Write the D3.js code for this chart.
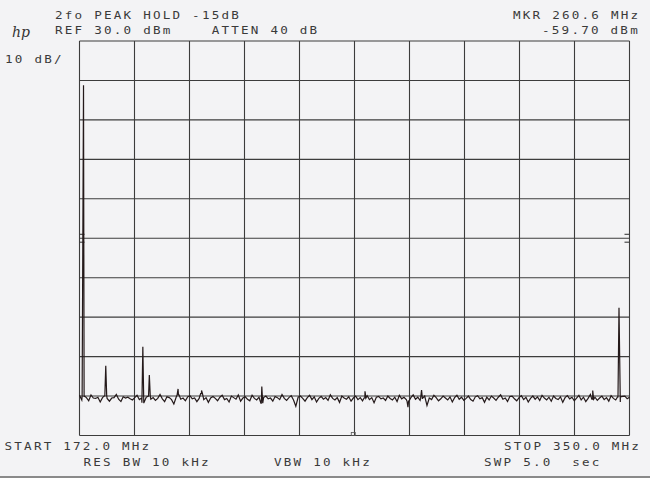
<!DOCTYPE html>
<html>
<head>
<meta charset="utf-8">
<script src="https://cdn.jsdelivr.net/npm/d3@7"></script>
<style>
  body { margin: 0; background: #f3f3f5; }
  svg { display: block; }
  .lbl { font-family: "DejaVu Sans Mono", monospace; font-size: 10.5px; letter-spacing: 1.85px; fill: #3a3a3a; white-space: pre; }
</style>
</head>
<body>
<svg width="650" height="478"></svg>
<script>
// Sweep settings
var freqStart = 172.0, freqStop = 350.0;
var refLevel = 30.0, dbPerDiv = 10, divisions = 10;

// Noise floor samples across the sweep (dBm)
var noiseFloor = [
  -59.8, -61.0, -60.1, -60.4, -61.2, -59.7, -60.5, -60.6, -60.3, -61.5, -60.4, -59.9,
  -60.6, -61.3, -60.5, -60.4, -59.6, -60.8, -61.4, -60.2, -60.5, -60.3, -60.7, -61.0,
  -60.4, -59.8, -60.9, -60.5, -61.7, -60.3, -60.0, -60.8, -60.4, -61.1, -60.6, -59.6,
  -60.7, -61.4, -60.2, -60.4, -60.9, -62.0, -60.3, -59.7, -60.8, -60.5, -61.2, -60.2,
  -59.9, -60.7, -60.5, -61.4, -60.6, -59.4, -60.9, -60.4, -61.6, -60.5, -60.1, -60.6,
  -61.2, -60.3, -59.8, -60.9, -60.6, -61.5, -60.0, -60.4, -60.8, -59.7, -61.3, -60.5,
  -60.2, -60.8, -61.2, -59.8, -60.6, -61.0, -60.3, -61.8, -60.4, -60.0, -60.7, -60.5,
  -61.3, -60.1, -60.4, -60.9, -59.6, -60.6, -61.1, -60.4, -59.9, -61.0, -62.6, -60.3,
  -60.0, -60.6, -61.3, -60.4, -59.8, -60.9, -60.2, -61.5, -60.6, -60.1, -60.8, -60.4,
  -61.1, -59.7, -60.6, -61.0, -60.4, -61.6, -60.0, -60.5, -60.8, -60.2, -61.3, -60.5,
  -60.0, -60.9, -60.4, -61.2, -60.5, -59.9, -60.9, -60.4, -61.7, -60.3, -60.1, -60.7,
  -60.5, -61.1, -60.0, -60.6, -61.0, -60.3, -61.4, -59.8, -60.7, -60.3, -60.9, -61.3,
  -60.4, -59.7, -60.8, -60.3, -61.1, -60.6, -60.0, -62.4, -60.5, -60.9, -59.8, -60.4,
  -61.2, -60.7, -60.0, -60.5, -61.0, -60.2, -61.5, -60.4, -59.8, -60.8, -60.3, -61.1,
  -60.6, -60.0, -60.9, -61.3, -60.2, -59.9, -60.7, -60.4, -61.6, -60.3, -61.0, -60.0,
  -60.5, -61.1, -60.3, -59.7, -60.8, -60.5, -61.4, -60.1, -60.0, -60.7, -61.2, -60.4,
  -59.9, -60.9, -60.3, -61.5, -60.6, -60.0, -60.8, -60.2, -61.1, -59.8, -60.5, -61.0,
  -60.3, -61.3, -60.0, -60.6, -60.9, -60.2, -61.6, -60.4, -59.9, -60.7, -60.3, -61.2,
  -60.5, -59.8, -61.0, -60.3, -61.4, -60.6, -59.6, -60.8, -60.3, -61.1, -60.5, -60.0,
  -60.9, -60.4, -61.3, -59.9, -60.6, -61.0, -60.2, -61.5, -60.1, -60.0, -60.7, -60.3
];

// Discrete responses (MHz, dBm): fundamental, spurs, 2nd harmonic
var spikeFreqs  = [173.3, 180.5, 192.5, 194.6, 203.9, 211.5, 231.0, 264.4, 278.3, 282.7, 338.1, 346.6];
var spikeLevels = [18.8, -52.3, -47.5, -54.7, -58.2, -58.6, -57.6, -58.8, -62.8, -58.5, -58.6, -37.6];

// Annotation text
var topLeftLines = ["2fo PEAK HOLD -15dB", "REF 30.0 dBm    ATTEN 40 dB"];
var markerLines = ["MKR 260.6 MHz", "-59.70 dBm"];
var scaleLabel = "10 dB/";
var bottomLabels = ["START 172.0 MHz", "STOP 350.0 MHz", "RES BW 10 kHz", "VBW 10 kHz", "SWP 5.0  sec"];
var markerFreq = 260.6;

var svg = d3.select("svg");

// Scales
var x = d3.scaleLinear().domain([freqStart, freqStop]).range([79.5, 629.5]);
var y = d3.scaleLinear().domain([refLevel - dbPerDiv * divisions, refLevel]).range([435.5, 41]);

// paper strip at bottom of scan
svg.append("rect").attr("x", 0).attr("y", 476).attr("width", 650).attr("height", 2).attr("fill", "#8a8a8a");

// Graticule
var fStep = (freqStop - freqStart) / divisions;
var gridF = d3.range(divisions + 1).map(function (i) { return freqStart + i * fStep; });
var gridDb = d3.range(divisions + 1).map(function (i) { return refLevel - i * dbPerDiv; });
var grid = svg.append("g").attr("stroke", "#3c3c3c").attr("stroke-width", 1.1);
grid.selectAll(".vg").data(gridF).enter().append("line")
  .attr("x1", function (d) { return x(d); }).attr("x2", function (d) { return x(d); })
  .attr("y1", y.range()[1]).attr("y2", y.range()[0]);
grid.selectAll(".hg").data(gridDb).enter().append("line")
  .attr("y1", function (d) { return y(d); }).attr("y2", function (d) { return y(d); })
  .attr("x1", x.range()[0]).attr("x2", x.range()[1]);

// small center reference marks on both edges
var midDb = refLevel - dbPerDiv * divisions / 2;
[midDb + 1, midDb - 1].forEach(function (d) {
  grid.append("line").attr("x1", x(freqStart)).attr("x2", x(freqStart) + 5).attr("y1", y(d)).attr("y2", y(d));
  grid.append("line").attr("x1", x(freqStop) - 5).attr("x2", x(freqStop)).attr("y1", y(d)).attr("y2", y(d));
});

// Build trace: noise samples plus narrow spikes
var step = (freqStop - freqStart) / (noiseFloor.length - 1);
var pts = noiseFloor.map(function (v, i) { return [freqStart + i * step, v]; });
spikeFreqs.forEach(function (f, i) {
  var base = noiseFloor[Math.round((f - freqStart) / step)];
  var w = spikeLevels[i] > -45 ? 0.45 : 0.3;
  pts.push([f - w, base], [f, spikeLevels[i]], [f + w, base]);
});
pts.sort(function (a, b) { return a[0] - b[0]; });

var line = d3.line()
  .x(function (d) { return x(d[0]); })
  .y(function (d) { return y(d[1]); });

svg.append("path")
  .datum(pts)
  .attr("fill", "none")
  .attr("stroke", "#24191a")
  .attr("stroke-width", 1.2)
  .attr("stroke-linejoin", "miter")
  .attr("d", line);

// marker symbol at bottom
svg.append("rect")
  .attr("x", x(markerFreq) - 2).attr("y", y.range()[0] - 3)
  .attr("width", 4).attr("height", 3)
  .attr("fill", "none").attr("stroke", "#555").attr("stroke-width", 0.8);

// Labels (plotter font is wide, so stretch the glyphs horizontally)
function label(txt, px, py) {
  svg.append("text").attr("class", "lbl")
    .attr("transform", "translate(" + px + "," + py + ") scale(1.2,1)")
    .text(txt);
}
label(topLeftLines[0], 55, 19);
label(topLeftLines[1], 55, 34);
label(markerLines[0], 513, 19);
label(markerLines[1], 542, 34);
label(scaleLabel, 5, 63);
label(bottomLabels[0], 4.5, 450);
label(bottomLabels[1], 504, 450);
label(bottomLabels[2], 83.5, 466);
label(bottomLabels[3], 274, 466);
label(bottomLabels[4], 484, 466);

// hp logo
svg.append("text")
  .attr("x", 12).attr("y", 37)
  .attr("font-family", "DejaVu Serif")
  .attr("font-style", "italic")
  .attr("font-size", 14)
  .attr("fill", "#333")
  .text("hp");
</script>
</body>
</html>
